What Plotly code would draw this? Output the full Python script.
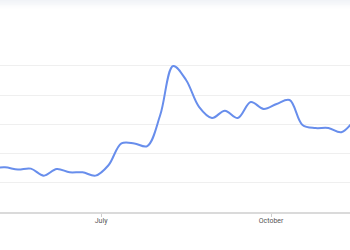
import plotly.graph_objects as go

dates = ["2020-05-03", "2020-05-10", "2020-05-17", "2020-05-24", "2020-05-31",
         "2020-06-07", "2020-06-14", "2020-06-21", "2020-06-28", "2020-07-05",
         "2020-07-12", "2020-07-19", "2020-07-26", "2020-08-02", "2020-08-09",
         "2020-08-16", "2020-08-23", "2020-08-30", "2020-09-06", "2020-09-13",
         "2020-09-20", "2020-09-27", "2020-10-04", "2020-10-11", "2020-10-18",
         "2020-10-25", "2020-11-01", "2020-11-08", "2020-11-15"]
values = [30, 30.6, 29.1, 29.7, 24.9,
          29.5, 27.2, 27.2, 24.9, 32,
          47, 47, 45.2, 66.4, 100,
          90.4, 72, 64.4, 69.4, 64.4,
          75.3, 70.6, 74, 76.7, 59.6,
          57.5, 57.5, 54.6, 63]

tick_dates = ["2020-07-01", "2020-10-01"]
tick_labels = ["July", "October"]

fig = go.Figure()
fig.add_trace(go.Scatter(
    x=dates, y=values, mode="lines",
    line=dict(color="rgb(104,142,236)", width=2, shape="spline", smoothing=1),
    hoverinfo="skip", showlegend=False,
))

# faint top band
for i, op in enumerate([0.9, 0.7, 0.5, 0.3, 0.15]):
    fig.add_shape(type="rect", xref="paper", yref="paper",
                  x0=0, x1=1, y0=1 - (i + 1) * 0.008, y1=1 - i * 0.008,
                  fillcolor="rgba(240,242,246,%s)" % op, line_width=0, layer="below")

fig.update_layout(
    width=350, height=250,
    margin=dict(l=0, r=0, t=0, b=38),
    paper_bgcolor="white", plot_bgcolor="white",
    xaxis=dict(
        range=["2020-05-07 07:00", "2020-11-12 17:00"],
        tickvals=tick_dates, ticktext=tick_labels,
        ticks="outside", ticklen=3, tickcolor="#cccccc",
        ticklabelstandoff=-2,
        tickfont=dict(family="Roboto, Arial", size=7, color="#555555"),
        showgrid=False, showline=True, linecolor="#dadada", linewidth=2,
        zeroline=False, fixedrange=True,
    ),
    yaxis=dict(
        range=[0, 145.2], tickvals=[0, 20, 40, 60, 80, 100],
        showticklabels=False, showgrid=True, gridcolor="#efefef", gridwidth=1,
        zeroline=False, showline=False, fixedrange=True,
    ),
)

fig.write_html("out.html")
